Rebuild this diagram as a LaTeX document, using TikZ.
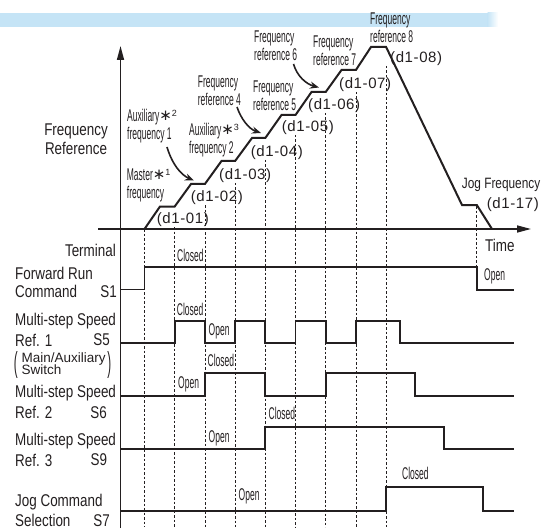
\documentclass[tikz,border=0pt]{standalone}
\usepackage{fontspec}
\setmainfont{Liberation Sans}
\newfontfamily\bigf[FakeStretch=0.79]{Liberation Sans}
\newfontfamily\smf[FakeStretch=0.5]{Liberation Sans}
\newfontfamily\dfnt[LetterSpace=4]{Liberation Sans}
\newfontfamily\parf[FakeStretch=0.4]{Liberation Sans}
\newfontfamily\dvs{DejaVu Sans}
\usetikzlibrary{arrows.meta}
\definecolor{ink}{RGB}{35,31,32}
\definecolor{bandblue}{RGB}{197,228,246}
\newcommand{\mystar}[1]{{\dvs\fontsize{15}{15}\selectfont\raisebox{1pt}{∗}}\raisebox{5pt}{\rmfamily\fontsize{9}{9}\selectfont #1}}
\tikzset{
  lbl/.style={font=\bigf\fontsize{17}{19.5}\selectfont, inner sep=0pt, text=ink},
  lblsmall/.style={font=\smf\fontsize{17}{18.3}\selectfont, inner sep=0pt, text=ink},
  dlab/.style={font=\dfnt\fontsize{15}{17}\selectfont, inner sep=0pt, text=ink},
  sig/.style={line width=1.8pt, draw=ink, line join=miter},
  freqline/.style={line width=2pt, draw=ink, line join=miter},
  guide/.style={draw=ink, line width=0.7pt, dash pattern=on 2.5pt off 2pt},
  axisline/.style={draw=ink, line width=1.6pt},
  callout/.style={draw=ink, line width=1.6pt, -{Stealth[length=9pt,width=7pt]}}
}
\begin{document}
\begin{tikzpicture}[x=1pt,y=-1pt]
\useasboundingbox (0,0) rectangle (545,529);
% top band
\fill[bandblue] (0,13) rectangle (488,27);
\shade[left color=bandblue, right color=white] (487.5,13) rectangle (498,27);

% dashed guides
\draw[guide] (144.5,229) -- (144.5,527);
\draw[guide] (174.7,227) -- (174.7,527);
\draw[guide] (204.9,205) -- (204.9,527);
\draw[guide] (235.1,183) -- (235.1,527);
\draw[guide] (265.3,160) -- (265.3,527);
\draw[guide] (295.5,135) -- (295.5,527);
\draw[guide] (325.7,113) -- (325.7,527);
\draw[guide] (355.9,92) -- (355.9,527);
\draw[guide] (386.1,66) -- (386.1,527);
\draw[guide] (476.8,206) -- (476.8,267);

% axes
\coordinate (yb) at (120.5,528);
\coordinate (yt) at (120.5,46);
\coordinate (xl) at (98,229);
\coordinate (xr) at (531,229);
\draw[axisline, -{Triangle[length=14pt,width=7pt]}] (yb) -- (yt);
\draw[axisline, -{Triangle[length=14pt,width=7pt]}] (xl) -- (xr);

% frequency reference curve
\draw[freqline] (144.5,229) -- (160,206.5) -- (174.7,206.5) -- (191,184) -- (204.9,184)
  -- (221.5,161) -- (235.1,161) -- (252,138) -- (265.3,138) -- (281.5,115) -- (295.5,115)
  -- (311.5,92) -- (325.7,92) -- (341.5,70) -- (355.9,70) -- (371,47) -- (386.1,47)
  -- (462,205) -- (476.8,205) -- (492,229);

% parameter labels
\node[dlab, anchor=west] (d01) at (156.7,220) {(d1-01)};
\node[dlab, anchor=west] (d02) at (190.7,198) {(d1-02)};
\node[dlab, anchor=west] (d03) at (219,176) {(d1-03)};
\node[dlab, anchor=west] (d04) at (250.7,152.7) {(d1-04)};
\node[dlab, anchor=west] (d05) at (281.7,128) {(d1-05)};
\node[dlab, anchor=west] (d06) at (308,106) {(d1-06)};
\node[dlab, anchor=west] (d07) at (339,85) {(d1-07)};
\node[dlab, anchor=west] (d08) at (390,59) {(d1-08)};
\node[dlab, anchor=west] (d17) at (486.7,205) {(d1-17)};

% step names
\node[lblsmall, anchor=west, align=left] (aux1) at (127,126.2) {Auxiliary\mystar{2}\\frequency 1};
\node[lblsmall, anchor=west, align=left] (mast) at (126.7,185.5) {Master\mystar{1}\\frequency};
\node[lblsmall, anchor=west, align=left] (aux2) at (189,140.3) {Auxiliary\mystar{3}\\frequency 2};
\node[lblsmall, anchor=west, align=left] (fr4) at (197.7,90.8) {Frequency\\reference 4};
\node[lblsmall, anchor=west, align=left] (fr5) at (253,95.5) {Frequency\\reference 5};
\node[lblsmall, anchor=west, align=left] (fr6) at (254,45.8) {Frequency\\reference 6};
\node[lblsmall, anchor=west, align=left] (fr7) at (313,50.5) {Frequency\\reference 7};
\node[lblsmall, anchor=west, align=left] (fr8) at (370,27.5) {Frequency\\reference 8};
\node[lbl, anchor=west, font=\bigf\fontsize{15}{16}\selectfont] (jog) at (461.7,185) {Jog Frequency};
\node[lbl, anchor=west] (time) at (485,245) {Time};

% callout arrows
\coordinate (c1s) at (167,147);
\coordinate (c1e) at (194,180.5);
\draw[callout] (c1s) .. controls (172,164) and (181,175) .. (c1e);
\coordinate (c2s) at (237,107);
\coordinate (c2e) at (261,133);
\draw[callout] (c2s) .. controls (241,119) and (249,129) .. (c2e);
\coordinate (c3s) at (293.5,64);
\coordinate (c3e) at (319,87.5);
\draw[callout] (c3s) .. controls (297,76) and (306,84) .. (c3e);

% left labels
\node[lbl, align=center] (fref) at (76,139) {Frequency\\Reference};
\node[lbl, anchor=east] (term) at (116,250.7) {Terminal};
\node[lbl, anchor=west] (fwd1) at (15,273.3) {Forward Run};
\node[lbl, anchor=west] (fwd2) at (15,291.7) {Command};
\node[lbl, anchor=east] (s1) at (117,291.7) {S1};
\node[lbl, anchor=west] (ms1a) at (15,320.7) {Multi-step Speed};
\node[lbl, anchor=west] (ms1b) at (15,340) {Ref. 1};
\node[lbl, anchor=east] (s5) at (110,340) {S5};
\node[inner sep=0pt, anchor=west, align=left, text=ink, font=\rmfamily\fontsize{13.5}{12.7}\selectfont] (mainaux) at (21.5,363.6) {Main/Auxiliary\\Switch};
\node[inner sep=0pt, text=ink, font=\parf\fontsize{29}{29}\selectfont] (lp) at (15.8,365) {(};
\node[inner sep=0pt, text=ink, font=\parf\fontsize{29}{29}\selectfont] (rp) at (109.2,365) {)};
\node[lbl, anchor=west] (ms2a) at (15,392.7) {Multi-step Speed};
\node[lbl, anchor=west] (ms2b) at (15,412.7) {Ref. 2};
\node[lbl, anchor=east] (s6) at (107,412.7) {S6};
\node[lbl, anchor=west] (ms3a) at (15,440.7) {Multi-step Speed};
\node[lbl, anchor=west] (ms3b) at (15,460) {Ref. 3};
\node[lbl, anchor=east] (s9) at (107.3,460) {S9};
\node[lbl, anchor=west] (jc1) at (15,501.7) {Jog Command};
\node[lbl, anchor=west] (jc2) at (15,520.7) {Selection};
\node[lbl, anchor=east] (s7) at (110,520.7) {S7};

% signals
\draw[sig] (120.5,289.5) -- (144.5,289.5) -- (144.5,267.3) -- (476.8,267.3) -- (476.8,290) -- (514,290);
\draw[sig] (120.5,343.3) -- (174.7,343.3) -- (174.7,320.7) -- (204.9,320.7) -- (204.9,343.3)
  -- (235.1,343.3) -- (235.1,320.7) -- (265.3,320.7) -- (265.3,343.3) -- (295.5,343.3)
  -- (295.5,320.7) -- (325.7,320.7) -- (325.7,343.3) -- (355.9,343.3) -- (355.9,320.7)
  -- (400,320.7) -- (400,343.3) -- (514,343.3);
\draw[sig] (120.5,396) -- (204.9,396) -- (204.9,373.3) -- (265.3,373.3) -- (265.3,396)
  -- (325.7,396) -- (325.7,373.3) -- (415,373.3) -- (415,396) -- (514,396);
\draw[sig] (120.5,449.3) -- (265.3,449.3) -- (265.3,427.3) -- (444.3,427.3) -- (444.3,449.3) -- (514,449.3);
\draw[sig] (120.5,510.7) -- (386.1,510.7) -- (386.1,487.3) -- (483.3,487.3) -- (483.3,510.7) -- (514,510.7);

% state labels
\node[lblsmall, anchor=west] (cl1) at (177,255) {Closed};
\node[lblsmall, anchor=west] (op1) at (484,276.7) {Open};
\node[lblsmall, anchor=west] (cl5) at (176.7,309) {Closed};
\node[lblsmall, anchor=west] (op5) at (208.5,331.7) {Open};
\node[lblsmall, anchor=west] (cl6) at (207.5,360) {Closed};
\node[lblsmall, anchor=west] (op6) at (178,384) {Open};
\node[lblsmall, anchor=west] (cl9) at (268.5,413) {Closed};
\node[lblsmall, anchor=west] (op9) at (208.5,438) {Open};
\node[lblsmall, anchor=west] (op7) at (238.5,496.7) {Open};
\node[lblsmall, anchor=west] (cl7) at (402,473.3) {Closed};
\end{tikzpicture}
\end{document}
